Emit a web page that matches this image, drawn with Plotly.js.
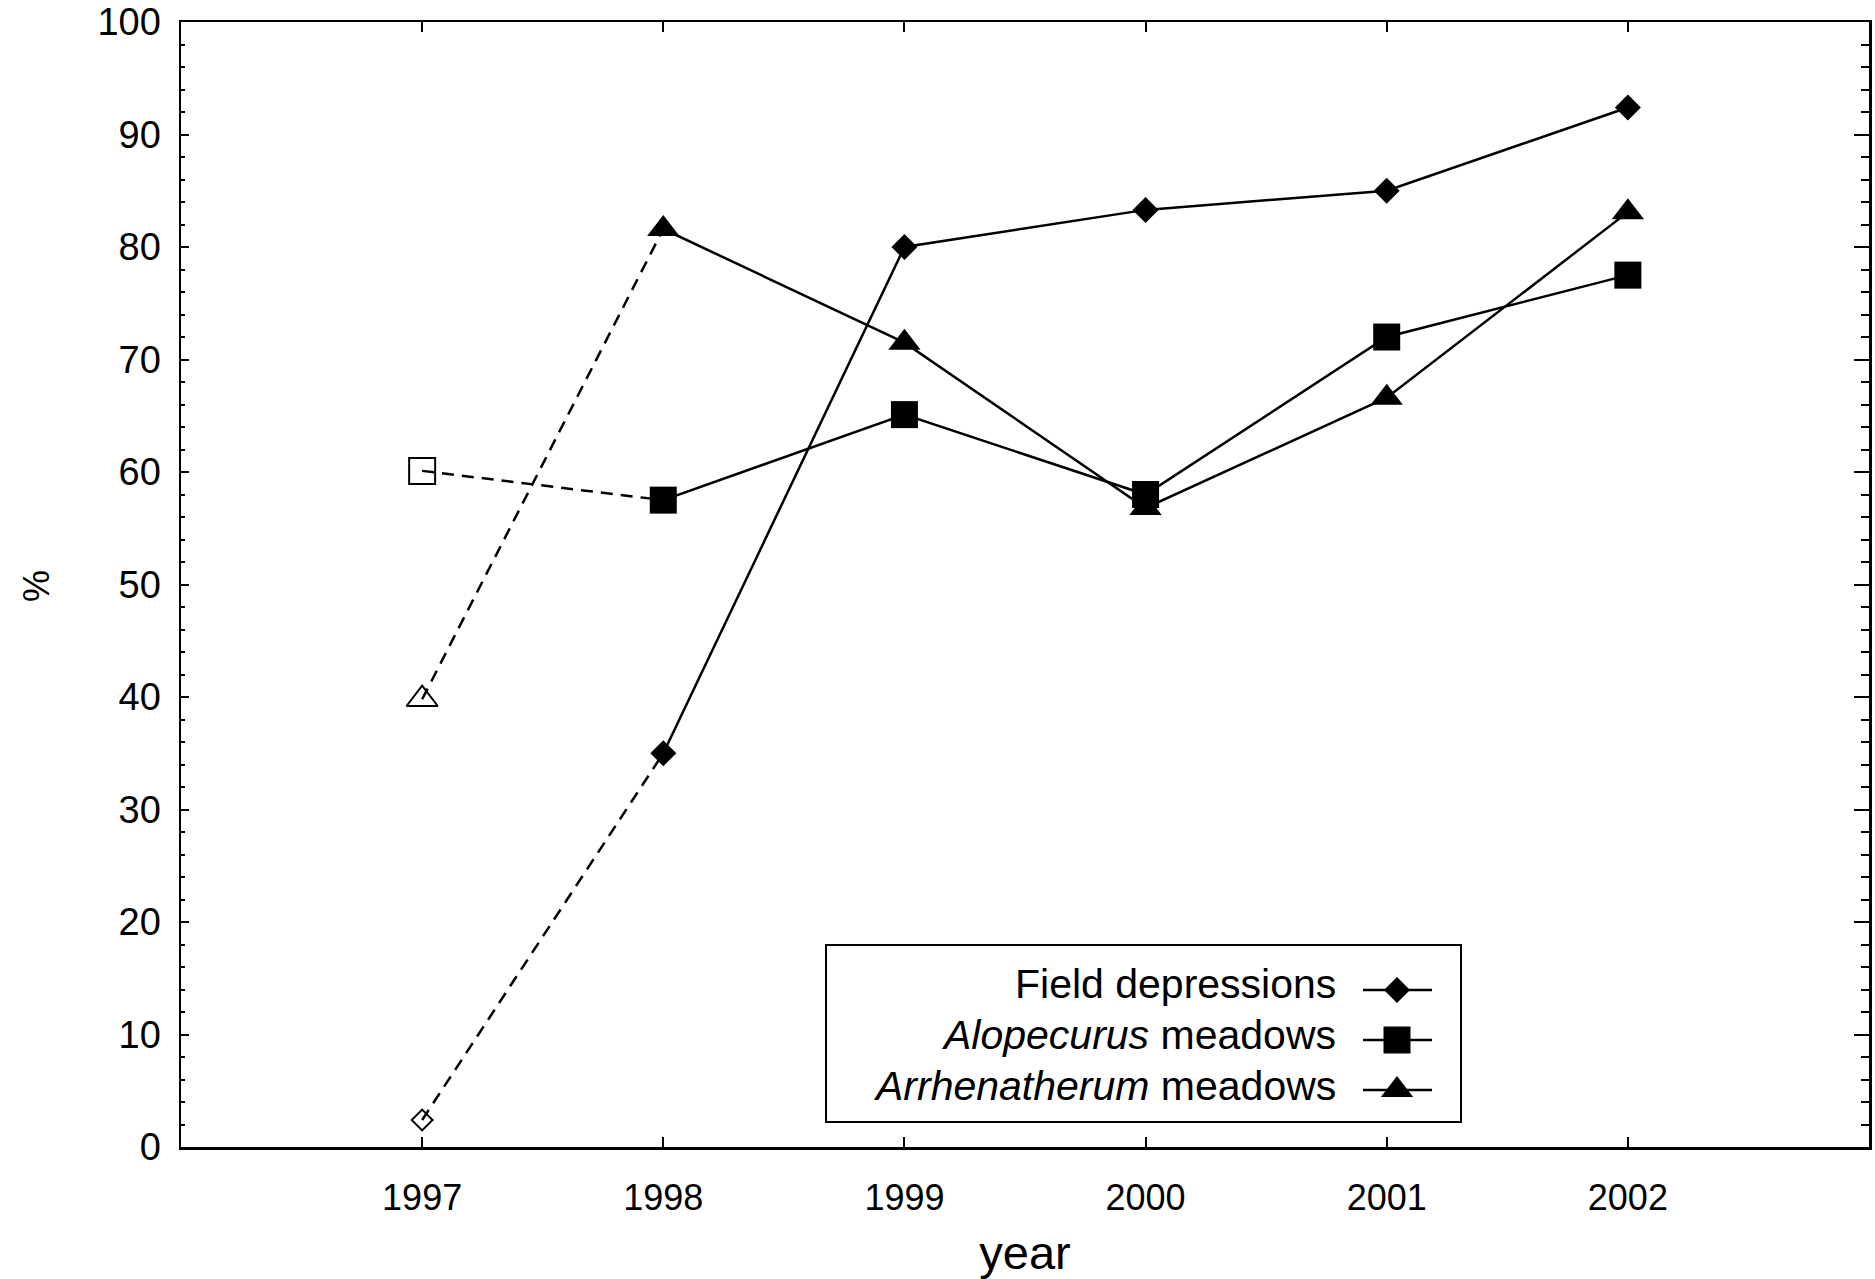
<!DOCTYPE html>
<html>
<head>
<meta charset="utf-8">
<script src="https://cdn.plot.ly/plotly-3.0.1.min.js"></script>
<style>html,body{margin:0;padding:0;background:#fff;}#chart{width:1875px;height:1279px;}</style>
</head>
<body>
<div id="chart"></div>
<script>
// ---- data ----
const years = [1997, 1998, 1999, 2000, 2001, 2002];
const fieldDepressions = [2.4, 35.0, 80.0, 83.3, 85.0, 92.4];
const alopecurusMeadows = [60.1, 57.5, 65.1, 58.0, 72.0, 77.5];
const arrhenatherumMeadows = [39.8, 81.6, 71.5, 56.8, 66.6, 83.1];
const seriesNames = ["Field depressions", "<i>Alopecurus</i> meadows", "<i>Arrhenatherum</i> meadows"];
const yTicks = [0, 10, 20, 30, 40, 50, 60, 70, 80, 90, 100];
const xTitle = 'year';
const yTitle = '%';

// ---- style ----
const FONT = '"Liberation Sans", Arial, Helvetica, sans-serif';
const LW = 2.5;
const series = [
  {y: fieldDepressions, filled: 'diamond', open: 'diamond-open', size: 20, openSize: 16},
  {y: alopecurusMeadows, filled: 'square', open: 'square-open', size: 27, openSize: 26},
  {y: arrhenatherumMeadows, filled: 'triangle-up', open: 'triangle-up-open', size: 28, openSize: 27}
];

const traces = [];
series.forEach((s, i) => {
  // 1997-1998 dashed link with open 1997 marker
  traces.push({
    x: years.slice(0, 2), y: s.y.slice(0, 2), type: 'scatter', mode: 'lines',
    line: {color: '#000', width: LW, dash: '12px,8px'},
    showlegend: false, hoverinfo: 'skip'
  });
  traces.push({
    x: years.slice(0, 1), y: s.y.slice(0, 1), type: 'scatter', mode: 'markers',
    marker: {symbol: s.open, size: s.openSize, color: '#000', opacity: 1, line: {color: '#000', width: 2}},
    showlegend: false
  });
  // 1998-2002 solid with filled markers
  traces.push({
    x: years.slice(1), y: s.y.slice(1), type: 'scatter', mode: 'lines+markers',
    name: seriesNames[i],
    line: {color: '#000', width: LW},
    marker: {symbol: s.filled, size: s.size, color: '#000', opacity: 1, line: {width: 0}},
    showlegend: false
  });
});

// ---- custom legend (text left, symbol right), positioned in pixels ----
const PL = 181, PR = 1869, PT = 22, PB = 1147;
const px = v => (v - PL) / (PR - PL);
const py = v => (PB - v) / (PB - PT);
const legTextRows = [984, 1035, 1086];
const legKeyRows = [990, 1040, 1090];
const legTextRight = 1338;
const legKeyX0 = 1363, legKeyX1 = 1432, legKeyMid = 1397;

// legend key samples drawn on a hidden pixel-space overlay axis
series.forEach((s, i) => {
  traces.push({
    x: [legKeyX0, legKeyX1], y: [legKeyRows[i], legKeyRows[i]],
    xaxis: 'x2', yaxis: 'y3', type: 'scatter', mode: 'lines',
    line: {color: '#000', width: LW}, showlegend: false, hoverinfo: 'skip'
  });
  traces.push({
    x: [legKeyMid], y: [legKeyRows[i]],
    xaxis: 'x2', yaxis: 'y3', type: 'scatter', mode: 'markers',
    marker: {symbol: s.filled, size: s.size, color: '#000', opacity: 1, line: {width: 0}},
    showlegend: false, hoverinfo: 'skip'
  });
});

const annotations = seriesNames.map((n, i) => ({
  xref: 'paper', yref: 'paper', x: px(legTextRight), y: py(legTextRows[i]),
  xanchor: 'right', yanchor: 'middle', showarrow: false, text: n,
  font: {family: FONT, size: 41, color: '#000'}
}));
// y-axis title placed as rotated annotation
annotations.push({
  xref: 'paper', yref: 'paper', x: px(36), y: py(586),
  xanchor: 'center', yanchor: 'middle', showarrow: false, text: yTitle, textangle: -90,
  font: {family: FONT, size: 36, color: '#000'}
});

const shapes = [{
  type: 'rect', xref: 'paper', yref: 'paper', layer: 'below',
  x0: px(826), x1: px(1461), y0: py(945), y1: py(1122),
  line: {color: '#000', width: 2}
}];

const layout = {
  width: 1875, height: 1279,
  margin: {l: PL, r: 1875 - PR, t: PT, b: 1279 - PB, pad: 0},
  paper_bgcolor: '#fff', plot_bgcolor: '#fff',
  showlegend: false,
  font: {family: FONT, color: '#000', size: 36},
  xaxis: {
    range: [1996, 2003], tickvals: years, ticktext: years.map(String),
    showgrid: false, zeroline: false,
    showline: true, linecolor: '#000', linewidth: LW, mirror: 'ticks',
    ticks: 'inside', ticklen: 10, tickwidth: 2, tickcolor: '#000',
    ticklabelstandoff: 17,
    tickfont: {family: FONT, size: 36, color: '#000'},
    title: {text: xTitle, font: {family: FONT, size: 47, color: '#000'}, standoff: 20}
  },
  yaxis: {
    range: [0, 100], tickvals: yTicks,
    showgrid: false, zeroline: false,
    showline: true, linecolor: '#000', linewidth: LW, mirror: false,
    ticks: 'inside', ticklen: 8, tickwidth: 2, tickcolor: '#000',
    minor: {dtick: 2, tick0: 0, ticks: 'inside', ticklen: 4, tickwidth: 2, tickcolor: '#000'},
    ticklabelstandoff: 10,
    tickfont: {family: FONT, size: 38, color: '#000'}
  },
  yaxis2: {
    overlaying: 'y', side: 'right', range: [0, 100], tickvals: yTicks,
    showgrid: false, zeroline: false, showticklabels: false,
    showline: true, linecolor: '#000', linewidth: LW,
    ticks: 'inside', ticklen: 15, tickwidth: 2, tickcolor: '#000',
    minor: {dtick: 2, tick0: 0, ticks: 'inside', ticklen: 8, tickwidth: 2, tickcolor: '#000'}
  },
  xaxis2: {overlaying: 'x', range: [PL, PR], visible: false, fixedrange: true},
  yaxis3: {overlaying: 'y', range: [PB, PT], visible: false, fixedrange: true},
  annotations: annotations,
  shapes: shapes
};

// dummy invisible trace to activate the right-side y axis
traces.push({x: [years[0]], y: [yTicks[0]], yaxis: 'y2', type: 'scatter', mode: 'markers',
  marker: {opacity: 0}, showlegend: false, hoverinfo: 'skip'});

Plotly.newPlot('chart', traces, layout, {displayModeBar: false, staticPlot: true});
</script>
</body>
</html>
